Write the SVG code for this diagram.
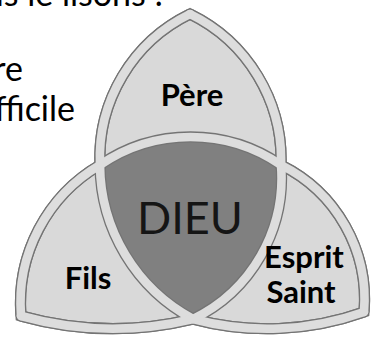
<svg xmlns="http://www.w3.org/2000/svg" width="379" height="342" viewBox="0 0 379 342">
<style>
.lobe{fill:#d9d9d9}
.core{fill:#808080}
.lbl{font-family:Lato,"Liberation Sans",sans-serif;font-weight:bold;font-size:31px;fill:#000;text-anchor:middle}
.big{font-family:Lato,"Liberation Sans",sans-serif;font-size:45px;fill:#151515;text-anchor:middle}
.bg{font-family:Lato,"Liberation Sans",sans-serif;font-size:34px;fill:#000;text-anchor:end}
.edge{fill:none;stroke:#747474;stroke-width:11.2;stroke-linejoin:round}
.band{fill:none;stroke:#dddddd;stroke-width:8.6;stroke-linecap:round;stroke-linejoin:round}
.rim{fill:none;stroke:#747474;stroke-width:11.2;stroke-linejoin:miter;stroke-miterlimit:10}
</style>
<rect width="379" height="342" fill="#ffffff"/>
<g id="intro-text">
<text class="bg" x="163" y="6">us le lisons :</text>
<text class="bg" x="23" y="81">re</text>
<text class="bg" x="75" y="121">fficile</text>
</g>
<g id="pere">
<path class="lobe" d="M190,14 A160,160 0 0 0 100,165 A160,160 0 0 1 281,165 A162,162 0 0 0 190,14 Z"/>
</g>
<g id="fils">
<path class="lobe" d="M100,165 A160,160 0 0 0 21,316 A342,342 0 0 0 193,319 A176,176 0 0 1 100,165 Z"/>
</g>
<g id="esprit">
<path class="lobe" d="M281,165 A157,157 0 0 1 193,319 A288,288 0 0 0 364,312 A150,150 0 0 0 281,165 Z"/>
</g>
<g id="dieu">
<path class="core" d="M100,165 A160,160 0 0 1 281,165 A157,157 0 0 1 193,319 A176,176 0 0 1 100,165 Z"/>
</g>
<g id="connectors">
<path class="rim" d="M190,14 A160,160 0 0 0 100,165 A160,160 0 0 0 21,316 A342,342 0 0 0 193,319 A288,288 0 0 0 364,312 A150,150 0 0 0 281,165 A162,162 0 0 0 190,14 Z"/>
<path class="edge" d="M190,14 A160,160 0 0 0 100,165 A176,176 0 0 0 193,319 A288,288 0 0 0 364,312"/>
<path class="edge" d="M190,14 A162,162 0 0 1 281,165 A157,157 0 0 1 193,319 A342,342 0 0 1 21,316"/>
<path class="edge" d="M21,316 A160,160 0 0 1 100,165 A160,160 0 0 1 281,165 A150,150 0 0 1 364,312"/>
<path class="band" d="M190,14 A160,160 0 0 0 100,165 A176,176 0 0 0 193,319 A288,288 0 0 0 364,312"/>
<path class="band" d="M190,14 A162,162 0 0 1 281,165 A157,157 0 0 1 193,319 A342,342 0 0 1 21,316"/>
<path class="band" d="M21,316 A160,160 0 0 1 100,165 A160,160 0 0 1 281,165 A150,150 0 0 1 364,312"/>
</g>
<g id="labels">
<text class="lbl" x="192" y="106" font-size="32">Père</text>
<text class="big" x="190" y="234">DIEU</text>
<text class="lbl" x="88" y="289" font-size="33">Fils</text>
<text class="lbl" x="304" y="268">Esprit</text>
<text class="lbl" x="301" y="303">Saint</text>
</g>
</svg>
